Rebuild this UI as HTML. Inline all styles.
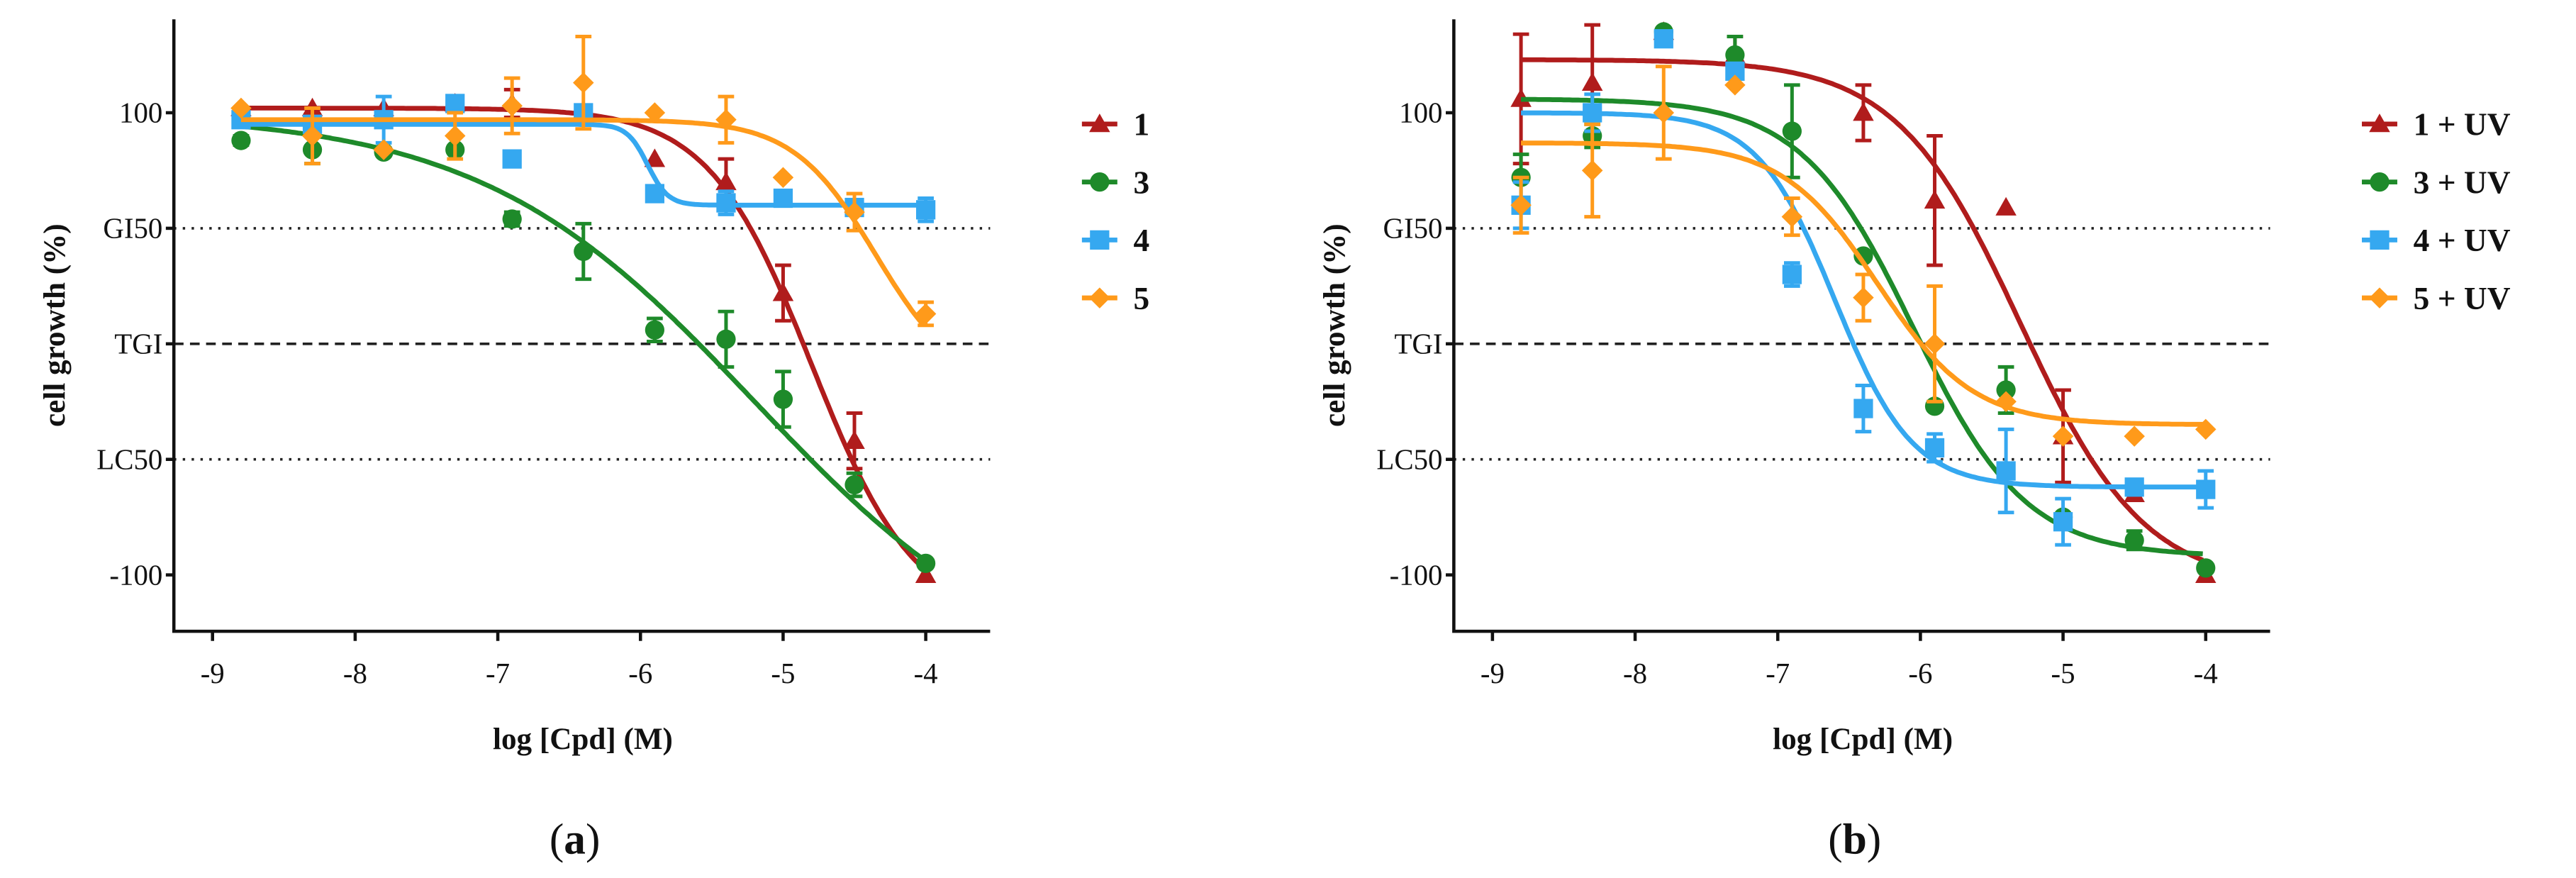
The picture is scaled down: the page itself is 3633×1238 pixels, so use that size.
<!DOCTYPE html>
<html><head><meta charset="utf-8"><style>
html,body{margin:0;padding:0;background:#fff}
svg{display:block}
text{font-family:"Liberation Serif",serif;fill:#111}
</style></head><body>
<svg id="chart" width="3633" height="1238" viewBox="0 0 1600 545.2" xmlns="http://www.w3.org/2000/svg"></svg>
<script>
// ---- data ----
const xDoses = [-8.8,-8.3,-7.8,-7.3,-6.9,-6.4,-5.9,-5.4,-5,-4.5,-4];
const xTicks = [-9,-8,-7,-6,-5,-4];
const yTickValues = [100,50,0,-50,-100];
const yTickLabels = ["100","GI50","TGI","LC50","-100"];
const namesA = ["1","3","4","5"];
const namesB = ["1 + UV","3 + UV","4 + UV","5 + UV"];
const colors = ["#b01c1c","#1e8a2a","#35a8f0","#ff9a1a"];
const shapes = ["tri","circ","sq","dia"];
const a1 = [102,102,102,104,104,101,80,70,22,-42,-100];
const a3 = [88,84,83,84,54,40,6,2,-24,-61,-95];
const a4 = [97,95,97,104,80,100,65,61,63,59,58];
const a5 = [102,90,84,90,103,113,100,97,72,57,13];
const ea1 = [0,0,0,0,6,0,0,10,12,12,0];
const ea3 = [2,6,0,0,3,12,5,12,12,5,0];
const ea4 = [0,0,10,0,0,0,0,5,0,0,5];
const ea5 = [0,12,0,10,12,20,0,10,0,8,5];
const b1 = [106,113,135,125,null,100,62,59,-40,-65,-100];
const b3 = [72,90,135,125,92,38,-27,-20,-75,-85,-97];
const b4 = [60,100,132,118,30,-28,-45,-55,-77,-62,-63];
const b5 = [60,75,100,112,55,20,0,-25,-40,-40,-37];
const eb1 = [28,25,0,8,0,12,28,0,20,0,0];
const eb3 = [10,5,0,8,20,0,0,10,0,4,0];
const eb4 = [10,8,0,0,5,10,6,18,10,0,8];
const eb5 = [12,20,20,0,8,10,25,0,0,0,0];
// fitted 4PL curve params: [top,bottom,logEC50,hill]
const fitA = [[102,-120,-4.8,1.2],[100,-150,-5.2,0.45],[95,60,-5.95,6],[97,-20,-4.35,1.5]];
const fitB = [[123,-105,-5.3,1.0],[106,-92,-6.05,1.1],[100,-62,-6.6,1.6],[87,-35,-6.3,1.3]];

const NS="http://www.w3.org/2000/svg";
const svg=document.getElementById('chart');
function mk(tag,attrs,parent){const e=document.createElementNS(NS,tag);for(const k in attrs)e.setAttribute(k,attrs[k]);(parent||svg).appendChild(e);return e;}
function marker(s,x,y,c,p){
  if(s==='tri')return mk('polygon',{points:`${x},${y-6.5} ${x-6.5},${y+5} ${x+6.5},${y+5}`,fill:c},p);
  if(s==='sq')return mk('rect',{x:x-6,y:y-6,width:12,height:12,fill:c},p);
  if(s==='circ')return mk('circle',{cx:x,cy:y,r:6,fill:c},p);
  return mk('polygon',{points:`${x},${y-6.5} ${x+6.5},${y} ${x},${y+6.5} ${x-6.5},${y}`,fill:c},p);
}

function panel(ox, series, errs, fits, names, tag){
  const g=mk('g',{});
  
  
  const X0=ox+108, X1=ox+615, YT=12, YB=392;
  const xs=v=>ox+132+(v+9)*88.6;
  const ys=v=>70+(100-v)*1.435;
  [[50,'1.5 4'],[0,'6 4'],[-50,'1.5 4']].forEach(([v,d])=>{
    const l=mk('line',{x1:X0,x2:X1,y1:ys(v),y2:ys(v),stroke:'#222','stroke-width':1.6,'stroke-dasharray':d},g);
    
    
  });
  const ax=mk('path',{d:`M${X0},${YT}V${YB}H${X1}`,fill:'none',stroke:'#111','stroke-width':2},g);
  
  
  yTickValues.forEach((v,i)=>{
    mk('line',{x1:X0-5,x2:X0,y1:ys(v),y2:ys(v),stroke:'#111','stroke-width':2},g);
    const t=mk('text',{x:X0-7,y:ys(v)+6,'text-anchor':'end','font-size':18},g);
    t.textContent=yTickLabels[i];
    
    
  });
  xTicks.forEach(v=>{
    mk('line',{x1:xs(v),x2:xs(v),y1:YB,y2:YB+6,stroke:'#111','stroke-width':2},g);
    const t=mk('text',{x:xs(v),y:YB+32,'text-anchor':'middle','font-size':18},g);
    t.textContent=v;
    
    
  });
  const xt=mk('text',{x:ox+362,y:465,'text-anchor':'middle','font-size':19,'font-weight':'bold'},g);
  xt.textContent='log [Cpd] (M)';
  
  
  const yt=mk('text',{transform:`translate(${ox+40},${202}) rotate(-90)`,'text-anchor':'middle','font-size':19,'font-weight':'bold'},g);
  yt.textContent='cell growth (%)';
  
  
  const pl=mk('text',{x:ox+357,y:530,'text-anchor':'middle','font-size':27},g);
  pl.innerHTML='(<tspan font-weight="bold">'+tag+'</tspan>)';
  
  
  series.forEach((data,si)=>{
    const c=colors[si];
    const [top,bot,ec,h]=fits[si];
    let d='';
    for(let v=-8.8;v<=-4.0001;v+=0.02){const y=bot+(top-bot)/(1+Math.pow(10,h*(v-ec)));d+=(d?'L':'M')+xs(v).toFixed(1)+','+ys(y).toFixed(1);}
    const cur=mk('path',{d,fill:'none',stroke:c,'stroke-width':3},g);
    
    
    data.forEach((val,i)=>{
      if(val===null)return;
      const x=xs(xDoses[i]), y=ys(val), e=errs[si][i];
      if(e>0){
        const eb=mk('path',{d:`M${x},${ys(val+e)}V${ys(val-e)}M${x-5},${ys(val+e)}H${x+5}M${x-5},${ys(val-e)}H${x+5}`,stroke:c,'stroke-width':2.2,fill:'none'},g);
        
        
      }
      const m=marker(shapes[si],x,y,c,g);
      
      
    });
    const ly=77+si*36, lx=ox+672;
    const lg=mk('g',{},g);
    
    
    mk('line',{x1:lx,x2:lx+22,y1:ly,y2:ly,stroke:c,'stroke-width':3},lg);
    marker(shapes[si],lx+11,ly,c,lg);
    const lt=mk('text',{x:lx+32,y:ly+7,'font-size':20,'font-weight':'bold'},lg);
    lt.textContent=names[si];
  });
}
panel(0,[a1,a3,a4,a5],[ea1,ea3,ea4,ea5],fitA,namesA,'a');
panel(795,[b1,b3,b4,b5],[eb1,eb3,eb4,eb5],fitB,namesB,'b');
</script>
</body></html>
